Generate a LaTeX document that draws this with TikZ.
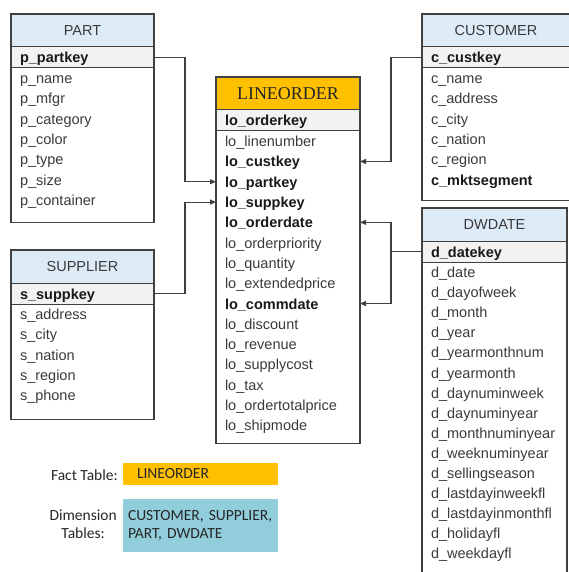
\documentclass[tikz,border=0pt]{standalone}
\usepackage{fontspec}
\newfontfamily\tabfont{Liberation Sans}
\newfontfamily\serifhdr{Liberation Serif}
\newfontfamily\legfont{Carlito}
\usetikzlibrary{arrows.meta,positioning}
\definecolor{hdrblue}{HTML}{DDEBF7}
\definecolor{factorange}{HTML}{FFC000}
\definecolor{dimblue}{HTML}{92CDDC}
\definecolor{keygray}{HTML}{F2F2F2}
\definecolor{framegray}{HTML}{404040}
\definecolor{txtgray}{HTML}{3A3A3A}
\newcommand\tabsize{\fontsize{14.5}{17}\selectfont}
\newcommand\legsize{\fontsize{15.5}{18}\selectfont}
\def\rowh{20.3pt}

\begin{document}
\begin{tikzpicture}[x=1pt,y=-1pt]
  \tikzstyle{hdr}=[draw=framegray,line width=1pt,fill=hdrblue,anchor=north west,minimum height=33pt,inner xsep=9pt,inner ysep=0pt,outer sep=0pt,align=center,font=\tabfont\tabsize,text=txtgray]
  \tikzstyle{row}=[anchor=north,minimum height=\rowh,text height=12.5pt,text depth=1.5pt,inner xsep=9pt,inner ysep=0pt,outer sep=0pt,align=left,font=\tabfont\tabsize,text=txtgray]
  \tikzstyle{brow}=[row,font=\tabfont\tabsize\bfseries,text=black!90]
  \tikzstyle{key}=[brow,draw=framegray,line width=1pt,fill=keygray,minimum height=21pt]
  \tikzstyle{frame}=[draw=framegray,line width=1.1pt]
  \tikzstyle{link}=[draw=framegray,line width=1.1pt,-{Triangle[length=6pt,width=5pt]}]
  \tikzstyle{legtxt}=[font=\legfont\legsize,text=black!85,inner sep=0pt,align=center]
  \tikzstyle{legbox}=[anchor=north west,font=\legfont\legsize,text=black!85,inner ysep=0pt,outer sep=0pt,align=left]

  \useasboundingbox (0,0) rectangle (569,572);
  \clip (0,0) rectangle (569,572);

  % PART
  \begin{scope}[every node/.append style={text width=125pt}]
    \node[hdr] (p-hdr) at (11,14) {PART};
    \node[key,below=0pt of p-hdr] (p-partkey) {p\_partkey};
    \node[row,below=0pt of p-partkey] (p-name) {p\_name};
    \node[row,below=0pt of p-name] (p-mfgr) {p\_mfgr};
    \node[row,below=0pt of p-mfgr] (p-category) {p\_category};
    \node[row,below=0pt of p-category] (p-color) {p\_color};
    \node[row,below=0pt of p-color] (p-type) {p\_type};
    \node[row,below=0pt of p-type] (p-size) {p\_size};
    \node[row,below=0pt of p-size] (p-container) {p\_container};
    \draw[frame] (p-hdr.north west) rectangle ([yshift=-12pt]p-container.south east);
  \end{scope}

  % SUPPLIER
  \begin{scope}[every node/.append style={text width=125pt}]
    \node[hdr] (s-hdr) at (11,250) {SUPPLIER};
    \node[key,below=0pt of s-hdr] (s-suppkey) {s\_suppkey};
    \node[row,below=0pt of s-suppkey] (s-address) {s\_address};
    \node[row,below=0pt of s-address] (s-city) {s\_city};
    \node[row,below=0pt of s-city] (s-nation) {s\_nation};
    \node[row,below=0pt of s-nation] (s-region) {s\_region};
    \node[row,below=0pt of s-region] (s-phone) {s\_phone};
    \draw[frame] (s-hdr.north west) rectangle ([yshift=-14pt]s-phone.south east);
  \end{scope}

  % LINEORDER (fact table)
  \begin{scope}[every node/.append style={text width=126pt}]
    \node[hdr,fill=factorange,font=\serifhdr\fontsize{18}{20}\selectfont,text=black!85] (lo-hdr) at (216,77) {LINEORDER};
    \node[key,below=0pt of lo-hdr] (lo-orderkey) {lo\_orderkey};
    \node[row,below=0pt of lo-orderkey] (lo-linenumber) {lo\_linenumber};
    \node[brow,below=0pt of lo-linenumber] (lo-custkey) {lo\_custkey};
    \node[brow,below=0pt of lo-custkey] (lo-partkey) {lo\_partkey};
    \node[brow,below=0pt of lo-partkey] (lo-suppkey) {lo\_suppkey};
    \node[brow,below=0pt of lo-suppkey] (lo-orderdate) {lo\_orderdate};
    \node[row,below=0pt of lo-orderdate] (lo-orderpriority) {lo\_orderpriority};
    \node[row,below=0pt of lo-orderpriority] (lo-quantity) {lo\_quantity};
    \node[row,below=0pt of lo-quantity] (lo-extendedprice) {lo\_extendedprice};
    \node[brow,below=0pt of lo-extendedprice] (lo-commdate) {lo\_commdate};
    \node[row,below=0pt of lo-commdate] (lo-discount) {lo\_discount};
    \node[row,below=0pt of lo-discount] (lo-revenue) {lo\_revenue};
    \node[row,below=0pt of lo-revenue] (lo-supplycost) {lo\_supplycost};
    \node[row,below=0pt of lo-supplycost] (lo-tax) {lo\_tax};
    \node[row,below=0pt of lo-tax] (lo-ordertotalprice) {lo\_ordertotalprice};
    \node[row,below=0pt of lo-ordertotalprice] (lo-shipmode) {lo\_shipmode};
    \draw[frame] (lo-hdr.north west) rectangle ([yshift=-8pt]lo-shipmode.south east);
  \end{scope}

  % CUSTOMER
  \begin{scope}[every node/.append style={text width=130pt}]
    \node[hdr] (c-hdr) at (422,14) {CUSTOMER};
    \node[key,below=0pt of c-hdr] (c-custkey) {c\_custkey};
    \node[row,below=0pt of c-custkey] (c-name) {c\_name};
    \node[row,below=0pt of c-name] (c-address) {c\_address};
    \node[row,below=0pt of c-address] (c-city) {c\_city};
    \node[row,below=0pt of c-city] (c-nation) {c\_nation};
    \node[row,below=0pt of c-nation] (c-region) {c\_region};
    \node[brow,below=0pt of c-region] (c-mktsegment) {c\_mktsegment};
    \draw[frame] (c-hdr.north west) rectangle ([yshift=-11pt]c-mktsegment.south east);
  \end{scope}

  % DWDATE
  \begin{scope}[every node/.append style={text width=127pt}]
    \def\rowh{20.1pt}
    \node[hdr] (d-hdr) at (422,208) {DWDATE};
    \node[key,below=0pt of d-hdr] (d-datekey) {d\_datekey};
    \node[row,below=0pt of d-datekey] (d-date) {d\_date};
    \node[row,below=0pt of d-date] (d-dayofweek) {d\_dayofweek};
    \node[row,below=0pt of d-dayofweek] (d-month) {d\_month};
    \node[row,below=0pt of d-month] (d-year) {d\_year};
    \node[row,below=0pt of d-year] (d-yearmonthnum) {d\_yearmonthnum};
    \node[row,below=0pt of d-yearmonthnum] (d-yearmonth) {d\_yearmonth};
    \node[row,below=0pt of d-yearmonth] (d-daynuminweek) {d\_daynuminweek};
    \node[row,below=0pt of d-daynuminweek] (d-daynuminyear) {d\_daynuminyear};
    \node[row,below=0pt of d-daynuminyear] (d-monthnuminyear) {d\_monthnuminyear};
    \node[row,below=0pt of d-monthnuminyear] (d-weeknuminyear) {d\_weeknuminyear};
    \node[row,below=0pt of d-weeknuminyear] (d-sellingseason) {d\_sellingseason};
    \node[row,below=0pt of d-sellingseason] (d-lastdayinweekfl) {d\_lastdayinweekfl};
    \node[row,below=0pt of d-lastdayinweekfl] (d-lastdayinmonthfl) {d\_lastdayinmonthfl};
    \node[row,below=0pt of d-lastdayinmonthfl] (d-holidayfl) {d\_holidayfl};
    \node[row,below=0pt of d-holidayfl] (d-weekdayfl) {d\_weekdayfl};
    \draw[frame] (d-hdr.north west) rectangle ([yshift=-20pt]d-weekdayfl.south east);
  \end{scope}

  % foreign keys
  \draw[link] (p-partkey.east) -- ++(31,0) |- (lo-partkey.west);
  \draw[link] (s-suppkey.east) -- ++(31,0) |- (lo-suppkey.west);
  \draw[link] (c-custkey.west) -- ++(-31,0) |- (lo-custkey.east);
  \draw[frame] (d-datekey.west) -- ++(-31,0) coordinate (dj);
  \draw[link] (dj) |- (lo-orderdate.east);
  \draw[link] (dj) |- (lo-commdate.east);

  % legend
  \node[legtxt,anchor=east] (fact-lbl) at (118,475) {Fact Table:};
  \node[legbox,fill=factorange,minimum height=22pt,inner xsep=14pt,text width=127pt] (fact-box) at (123,463) {LINEORDER};
  \node[legtxt,anchor=east] (dim-lbl) at (117,524) {Dimension\\Tables:};
  \node[legbox,fill=dimblue,minimum height=53pt,inner xsep=5pt,text width=145pt] (dim-box) at (123,499) {CUSTOMER, SUPPLIER,\\PART, DWDATE};
\end{tikzpicture}
\end{document}
